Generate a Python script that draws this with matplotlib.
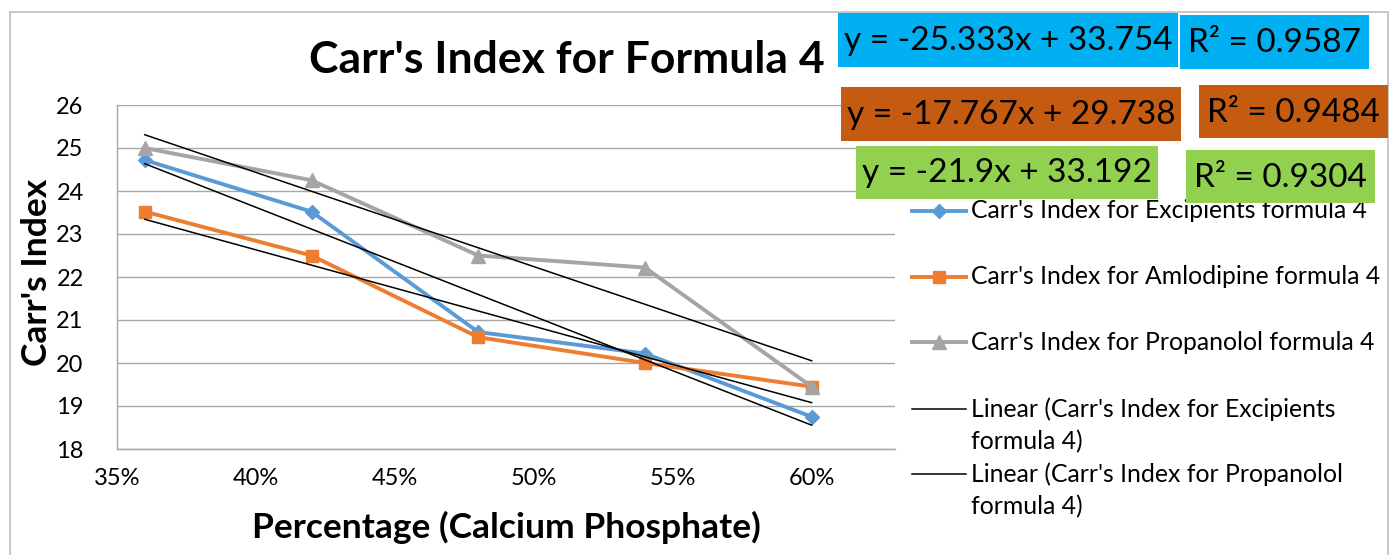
import matplotlib
matplotlib.use('Agg')
import matplotlib.pyplot as plt
from matplotlib.lines import Line2D
from matplotlib.patches import Rectangle
from matplotlib.ticker import PercentFormatter

plt.rcParams['font.family'] = ['Lato', 'DejaVu Sans']

# data
x_pct = [0.36, 0.42, 0.48, 0.54, 0.60]
excipients = [24.72, 23.52, 20.72, 20.22, 18.75]
amlodipine = [23.52, 22.50, 20.60, 20.00, 19.45]
propanolol = [25.00, 24.25, 22.50, 22.22, 19.45]

series_names = ["Carr's Index for Excipients formula 4",
                "Carr's Index for Amlodipine formula 4",
                "Carr's Index for Propanolol formula 4"]

# trendlines as printed on the chart
trend_slope = [-25.333, -17.767, -21.9]
trend_icpt = [33.754, 29.738, 33.192]
trend_r2 = ["0.9587", "0.9484", "0.9304"]
trend_x = [0.36, 0.60]

W, H = 1392, 555

def fx(px):
    return px / W

def fy(py):
    return 1 - py / H

fig = plt.figure(figsize=(W / 100, H / 100), dpi=100)

# chart border
fig.patches.append(Rectangle((fx(10), fy(560)), fx(1378), 548 / H, transform=fig.transFigure,
                             fill=False, edgecolor='#BFBFBF', linewidth=1.2))

ax = fig.add_axes([fx(117), fy(449), fx(895 - 117), (449 - 105) / H])

colors = ['#5B9BD5', '#ED7D31', '#A5A5A5']
markers = ['D', 's', '^']
msizes = [7, 9, 10]
data = [excipients, amlodipine, propanolol]

for vals, c, m, ms in zip(data, colors, markers, msizes):
    ax.plot(x_pct, vals, color=c, marker=m, markersize=ms, linewidth=2.8, zorder=3)

for s, b in zip(trend_slope, trend_icpt):
    ax.plot(trend_x, [s * trend_x[0] + b, s * trend_x[1] + b], color='black', linewidth=1.1, zorder=4)

ax.set_xlim(0.35, 0.63)
ax.set_ylim(18, 26)
ax.set_xticks([0.35, 0.40, 0.45, 0.50, 0.55, 0.60])
ax.set_yticks(range(18, 27))
ax.xaxis.set_major_formatter(PercentFormatter(1.0, decimals=0))
ax.tick_params(length=0, labelsize=17, pad=14)
ax.tick_params(axis='y', pad=24)
ax.grid(axis='y', color='#A6A6A6', linewidth=1.0)
ax.set_axisbelow(True)
for sp in ['top', 'right']:
    ax.spines[sp].set_visible(False)
for sp in ['left', 'bottom']:
    ax.spines[sp].set_color('#A6A6A6')
    ax.spines[sp].set_linewidth(1.0)

ax.set_xlabel('Percentage (Calcium Phosphate)', fontsize=25.5, fontweight='bold')
ax.xaxis.set_label_coords(0.5, (449 - 527) / 344)
ax.xaxis.label.set_va('center')
ax.set_ylabel("Carr's Index", fontsize=25.5, fontweight='bold')
ax.yaxis.set_label_coords((37 - 117) / 778, (449 - 272) / 344)
ax.yaxis.label.set_va('center')

fig.text(fx(567), fy(60), "Carr's Index for Formula 4", fontsize=32, fontweight='bold',
         ha='center', va='center')

# equation and R² boxes
box_colors = ['#00B0F0', '#C55A11', '#92D050']
eq_boxes = [(838, 13, 1178, 67), (841, 87, 1181, 141), (856, 146, 1158, 199)]
r2_boxes = [(1180, 15, 1369, 69), (1199, 85, 1388, 138), (1186, 150, 1375, 203)]
for i in range(3):
    s, b = trend_slope[i], trend_icpt[i]
    eq = f"y = {s:g}x + {b:g}"
    for (x0, y0, x1, y1), txt in [(eq_boxes[i], eq), (r2_boxes[i], f"R² = {trend_r2[i]}")]:
        fig.patches.append(Rectangle((fx(x0), fy(y1)), fx(x1 - x0), (y1 - y0) / H,
                                     transform=fig.transFigure, facecolor=box_colors[i],
                                     edgecolor='none', zorder=5))
        fig.text(fx((x0 + x1) / 2), fy((y0 + y1) / 2 + 1), txt, fontsize=24, ha='center',
                 va='center', zorder=6)

# legend drawn by hand to keep Excel's spacing
leg_rows = [
    ([series_names[0]], colors[0], markers[0], 7, 2.8, 211),
    ([series_names[1]], colors[1], markers[1], 9, 2.8, 277),
    ([series_names[2]], colors[2], markers[2], 10, 2.8, 342),
    (["Linear (Carr's Index for Excipients", "formula 4)"], 'black', None, 0, 1.1, 409),
    (["Linear (Carr's Index for Propanolol", "formula 4)"], 'black', None, 0, 1.1, 474),
]
for lines, c, m, ms, lw, y in leg_rows:
    fig.lines.append(Line2D([fx(912), fx(966)], [fy(y), fy(y)], transform=fig.transFigure,
                            color=c, linewidth=lw))
    if m:
        fig.lines.append(Line2D([fx(939)], [fy(y)], transform=fig.transFigure, color=c,
                                marker=m, markersize=ms, linestyle='none'))
    for k, t in enumerate(lines):
        fig.text(fx(971), fy(y + 32.5 * k), t, fontsize=17.8, ha='left', va='center')

fig.savefig('out.png', dpi=100)
